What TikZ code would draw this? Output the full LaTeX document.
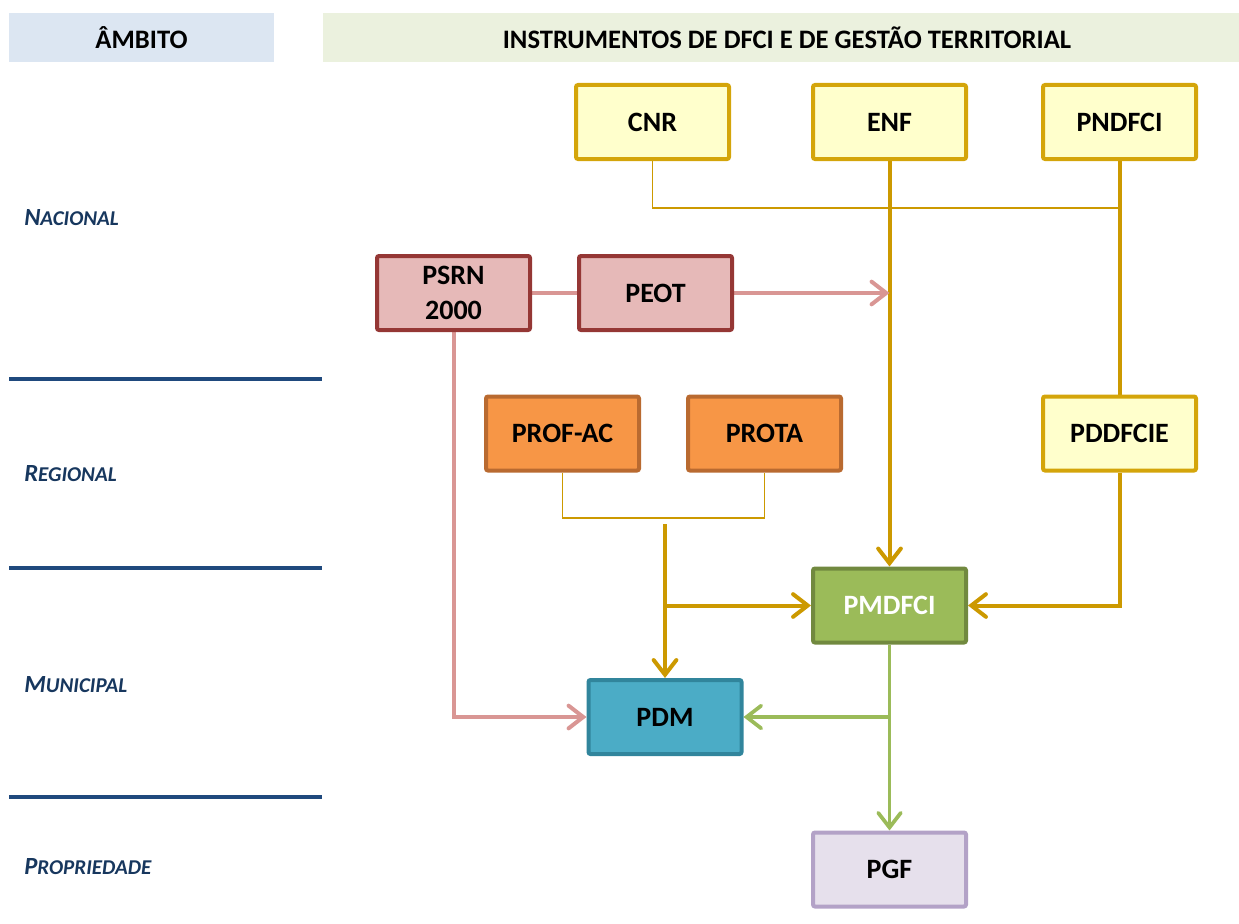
\documentclass[tikz,border=0pt]{standalone}
\usepackage{fontspec}
\setmainfont{Carlito}
\usetikzlibrary{arrows.meta,backgrounds}
\definecolor{gold}{RGB}{204,153,0}
\definecolor{goldbd}{RGB}{212,165,10}
\definecolor{yelfill}{RGB}{255,255,204}
\definecolor{pinkfill}{RGB}{230,185,184}
\definecolor{pinkbd}{RGB}{149,55,53}
\definecolor{pinkline}{RGB}{217,150,148}
\definecolor{orfill}{RGB}{247,150,70}
\definecolor{orbd}{RGB}{185,106,48}
\definecolor{grfill}{RGB}{155,187,89}
\definecolor{grbd}{RGB}{113,137,63}
\definecolor{blfill}{RGB}{75,172,198}
\definecolor{blbd}{RGB}{49,133,156}
\definecolor{lvfill}{RGB}{230,224,236}
\definecolor{lvbd}{RGB}{179,162,199}
\definecolor{navy}{RGB}{23,55,94}
\definecolor{sepblue}{RGB}{31,73,125}
\definecolor{hdrblue}{RGB}{220,230,242}
\definecolor{hdrgreen}{RGB}{235,241,222}
\newcommand\fakesc[2]{{\fontsize{18.5}{20}\selectfont #1}{\fontsize{15.8}{16}\selectfont #2}}
\tikzset{
  box/.style={draw, line width=3pt, rounded corners=1.5pt, minimum width=114.75pt, minimum height=55.5pt,
    align=center, font=\fontsize{21}{23}\selectfont\bfseries, inner sep=0pt},
  ybox/.style={box, fill=yelfill, draw=goldbd},
  pbox/.style={box, fill=pinkfill, draw=pinkbd},
  obox/.style={box, fill=orfill, draw=orbd},
  gbox/.style={box, fill=grfill, draw=grbd, text=white},
  bbox/.style={box, fill=blfill, draw=blbd},
  lbox/.style={box, fill=lvfill, draw=lvbd},
  tip/.style={-{Straight Barb[length=11pt,width=17pt,line cap=round]}},
  goldthick/.style={draw=gold, line width=3pt},
  goldthin/.style={draw=gold, line width=0.8pt},
  pinkln/.style={draw=pinkline, line width=3pt},
  greenln/.style={draw=grfill, line width=2.8pt},
  level/.style={anchor=west, text=navy, font=\bfseries\itshape, inner sep=0pt},
  sep/.style={draw=sepblue, line width=3pt},
  hdr/.style={font=\fontsize{20}{22}\selectfont\bfseries, inner sep=0pt}
}
\begin{document}
\begin{tikzpicture}[x=0.75pt,y=-0.75pt]
\useasboundingbox (0,0) rectangle (1239,924);
% headers
\fill[hdrblue] (9,13) rectangle (274,62);
\fill[hdrgreen] (323,13) rectangle (1239,62);
\node[hdr] (hA) at (141.5,37.5) {ÂMBITO};
\node[hdr] (hI) at (787,37.5) {INSTRUMENTOS DE DFCI E DE GESTÃO TERRITORIAL};
% level labels
\node[level] (lN) at (24,218) {\fakesc{N}{ACIONAL}};
\node[level] (lR) at (24,474) {\fakesc{R}{EGIONAL}};
\node[level] (lM) at (24,685) {\fakesc{M}{UNICIPAL}};
\node[level] (lP) at (24,867) {\fakesc{P}{ROPRIEDADE}};
% separators
\draw[sep] (9,379) -- (322,379);
\draw[sep] (9,568) -- (322,568);
\draw[sep] (9,797) -- (322,797);
% boxes
\node[ybox] (CNR) at (652.5,122) {CNR};
\node[ybox] (ENF) at (889.5,122) {ENF};
\node[ybox] (PNDFCI) at (1119.5,122) {PNDFCI};
\node[pbox] (PSRN) at (453.5,293) {PSRN\\[3pt]2000};
\node[pbox] (PEOT) at (655.5,293) {PEOT};
\node[obox] (PROFAC) at (562.5,433.5) {PROF-AC};
\node[obox] (PROTA) at (764.5,433.5) {PROTA};
\node[ybox] (PDDFCIE) at (1119.5,433.5) {PDDFCIE};
\node[gbox] (PMDFCI) at (889.5,605.5) {PMDFCI};
\node[bbox] (PDM) at (665,717) {PDM};
\node[lbox] (PGF) at (889.5,869.5) {PGF};
% coordinates
\coordinate (j1) at (1119.5,208);
\coordinate (j2) at (889.5,293);
\coordinate (j3) at (665,518);
\coordinate (j4) at (665,524);
\coordinate (j5) at (665,605.5);
\coordinate (j6) at (889.5,717);
% connectors
\begin{scope}[on background layer]
\draw[goldthin] (CNR.south) |- (j1);
\draw[goldthick] (PNDFCI.south) -- (PDDFCIE.north);
\draw[goldthick, tip] (ENF.south) -- (PMDFCI.north);
\draw[pinkln] (PSRN.east) -- (PEOT.west);
\draw[pinkln, tip] (PEOT.east) -- (j2);
\draw[pinkln, tip] (PSRN.south) |- (PDM.west);
\draw[goldthin] (PROFAC.south) |- (j3) -| (PROTA.south);
\draw[goldthick, tip] (j4) -- (PDM.north);
\draw[goldthick, tip] (j5) -- (PMDFCI.west);
\draw[goldthick, tip] (PDDFCIE.south) |- (PMDFCI.east);
\draw[greenln, tip] (PMDFCI.south) -- (PGF.north);
\draw[greenln, tip] (j6) -- (PDM.east);
\end{scope}
\end{tikzpicture}
\end{document}
